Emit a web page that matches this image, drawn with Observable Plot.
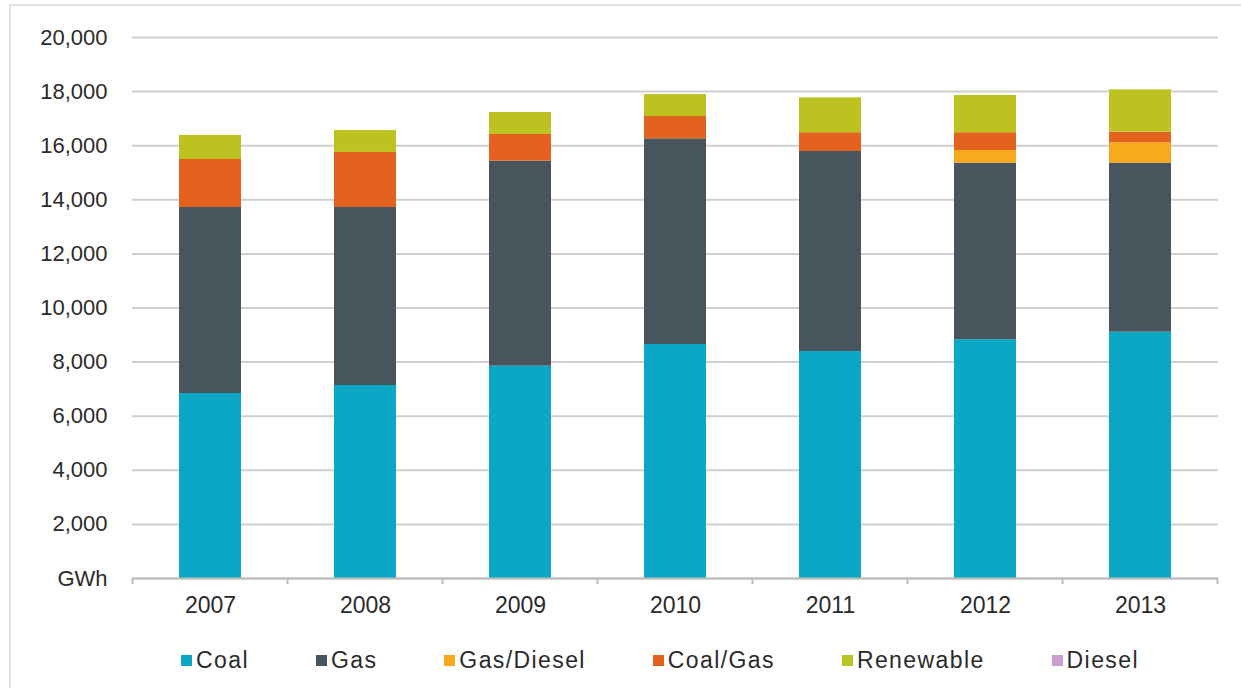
<!DOCTYPE html>
<html>
<head>
<meta charset="utf-8">
<script src="https://cdn.jsdelivr.net/npm/d3@7"></script>
<script src="https://cdn.jsdelivr.net/npm/@observablehq/plot@0.6"></script>
<style>
  html, body { margin: 0; padding: 0; background: #fff; width: 1241px; height: 688px; overflow: hidden; }
  #frame { position: absolute; left: 9px; top: 4px; width: 1260px; height: 720px; border: 2px solid #e2e2e2; box-sizing: border-box; }
  #chart { position: absolute; left: 0; top: 0; }
  #legend { position: absolute; left: 0; top: 647px; width: 1320px; display: flex; justify-content: center; gap: 67px;
            font-family: "Liberation Sans", Arial, sans-serif; font-size: 23px; letter-spacing: 1.4px; color: #2a2a2a; }
  .item { display: flex; align-items: center; }
  .sw { width: 11px; height: 11px; margin-right: 4px; }
</style>
</head>
<body>
<div id="frame"></div>
<div id="chart"></div>
<div id="legend"></div>
<script>
const years = ["2007", "2008", "2009", "2010", "2011", "2012", "2013"];
const sources = ["Coal", "Gas", "Gas/Diesel", "Coal/Gas", "Renewable", "Diesel"];
const colors = ["#0aa8c5", "#48555d", "#f6aa1c", "#e3621e", "#bcc321", "#c9a0d2"];

const coal      = [6840, 7135, 7850, 8650, 8390, 8825, 9105];
const gas       = [6875, 6580, 7580, 7605, 7395, 6530, 6250];
const gasDiesel = [0, 0, 0, 0, 0, 465, 750];
const coalGas   = [1775, 2035, 985, 825, 695, 660, 395];
const renewable = [890, 810, 815, 810, 1290, 1375, 1565];
const diesel    = [0, 0, 0, 0, 0, 0, 0];

const yTicks = [0, 2000, 4000, 6000, 8000, 10000, 12000, 14000, 16000, 18000, 20000];

const seriesValues = [coal, gas, gasDiesel, coalGas, renewable, diesel];
const rows = [];
sources.forEach((s, i) => years.forEach((y, j) => rows.push({year: y, source: s, value: seriesValues[i][j]})));

const fmt = d3.format(",");
const plot = Plot.plot({
  width: 1241,
  height: 630,
  marginTop: 37,
  marginBottom: 52,
  marginLeft: 132,
  marginRight: 23,
  style: { fontFamily: "'Liberation Sans', Arial, sans-serif", fontSize: "22px", color: "#2a2a2a", background: "transparent" },
  x: { domain: years, paddingInner: 0.6, paddingOuter: 0.3, label: null },
  y: { domain: [0, 20000], label: null },
  color: { domain: sources, range: colors },
  marks: [
    Plot.gridY(yTicks, { stroke: "#cfcfcf", strokeOpacity: 1, strokeWidth: 2 }),
    Plot.barY(rows, Plot.stackY({ order: sources }, { x: "year", y: "value", fill: "source" })),
    Plot.ruleY([0], { stroke: "#bdbdbd", strokeWidth: 2 }),
    Plot.axisY(yTicks, { tickSize: 0, tickPadding: 25, tickFormat: d => d === 0 ? "GWh" : fmt(d), fontSize: 22, fill: "#2a2a2a", letterSpacing: 0.5 }),
    Plot.axisX({ tickSize: 0, tickPadding: 18, fontSize: 23, fill: "#2a2a2a", letterSpacing: 1.5 })
  ]
});

// category boundary tick marks on the x axis, derived from the plot's own x scale
const xs = plot.scale("x");
const ys = plot.scale("y");
const step = xs.apply(years[1]) - xs.apply(years[0]);
const bw = xs.bandwidth != null ? xs.bandwidth : step * 0.4;
const y0 = ys.apply(0);
const bounds = years.map(y => xs.apply(y) + bw / 2 - step / 2);
bounds.push(bounds[bounds.length - 1] + step);
d3.select(plot).append("g").selectAll("line").data(bounds).join("line")
  .attr("x1", d => d).attr("x2", d => d).attr("y1", y0).attr("y2", y0 + 6)
  .attr("stroke", "#bdbdbd").attr("stroke-width", 2);

document.getElementById("chart").appendChild(plot);

const legend = document.getElementById("legend");
sources.forEach((s, i) => {
  const it = document.createElement("div");
  it.className = "item";
  it.innerHTML = `<span class="sw" style="background:${colors[i]}"></span><span>${s}</span>`;
  legend.appendChild(it);
});
</script>
</body>
</html>
